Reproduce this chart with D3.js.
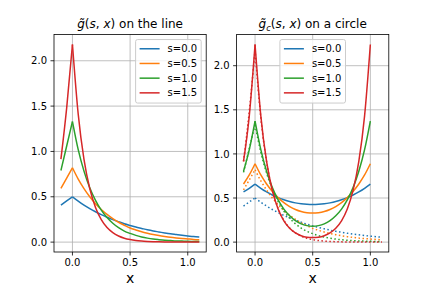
<!DOCTYPE html>
<html><head><meta charset="utf-8">
<script src="https://cdn.jsdelivr.net/npm/d3@7"></script>
<style>body{margin:0;background:#fff} svg{display:block}</style>
</head><body><svg id="c" width="432" height="288"></svg>
<script>
const seriesLabels = ["s=0.0", "s=0.5", "s=1.0", "s=1.5"];
const colors = ["#1f77b4", "#ff7f0e", "#2ca02c", "#d62728"];

// x positions for the curves on the line (left panel, dotted on right)
const xLine = [-0.1, -0.05, 0, 0.05, 0.1, 0.15, 0.2, 0.25, 0.3, 0.35, 0.4, 0.45, 0.5,
               0.55, 0.6, 0.65, 0.7, 0.75, 0.8, 0.85, 0.9, 0.95, 1.0, 1.05, 1.1];
const lineS00 = [0.409, 0.455, 0.5, 0.452, 0.409, 0.370, 0.335, 0.303, 0.274, 0.248, 0.225, 0.203, 0.184,
                 0.166, 0.151, 0.136, 0.123, 0.112, 0.101, 0.091, 0.083, 0.075, 0.068, 0.061, 0.056];
const lineS05 = [0.592, 0.705, 0.82, 0.695, 0.590, 0.500, 0.424, 0.360, 0.305, 0.259, 0.219, 0.186, 0.156,
                 0.134, 0.114, 0.098, 0.084, 0.072, 0.062, 0.053, 0.046, 0.040, 0.035, 0.030, 0.027];
const lineS10 = [0.790, 1.060, 1.33, 1.020, 0.783, 0.600, 0.461, 0.353, 0.271, 0.208, 0.159, 0.122, 0.096,
                 0.074, 0.057, 0.044, 0.034, 0.027, 0.021, 0.017, 0.013, 0.011, 0.009, 0.007, 0.006];
const lineS15 = [0.915, 1.480, 2.18, 1.411, 0.913, 0.591, 0.382, 0.247, 0.160, 0.104, 0.067, 0.043, 0.028,
                 0.018, 0.012, 0.008, 0.005, 0.003, 0.002, 0.001, 0.001, 0.001, 0.000, 0.000, 0.000];

// x positions for the curves on a circle (right panel, solid)
const xCircle = [-0.1, -0.05, 0, 0.05, 0.1, 0.15, 0.2, 0.25, 0.3, 0.35, 0.4, 0.45, 0.5,
                 0.55, 0.6, 0.65, 0.7, 0.75, 0.8, 0.85, 0.9, 0.95, 1.0];
const circS00 = [0.569, 0.610, 0.657, 0.610, 0.569, 0.534, 0.504, 0.480, 0.460, 0.445, 0.434, 0.428, 0.426,
                 0.428, 0.434, 0.445, 0.460, 0.480, 0.504, 0.534, 0.569, 0.610, 0.657];
const circS05 = [0.659, 0.761, 0.888, 0.761, 0.659, 0.574, 0.504, 0.447, 0.403, 0.370, 0.347, 0.334, 0.329,
                 0.334, 0.347, 0.370, 0.403, 0.447, 0.504, 0.574, 0.659, 0.761, 0.888];
const circS10 = [0.803, 1.048, 1.372, 1.048, 0.803, 0.618, 0.478, 0.374, 0.298, 0.243, 0.207, 0.187, 0.180,
                 0.187, 0.207, 0.243, 0.298, 0.374, 0.478, 0.618, 0.803, 1.048, 1.372];
const circS15 = [0.915, 1.432, 2.241, 1.432, 0.915, 0.586, 0.375, 0.241, 0.157, 0.104, 0.073, 0.056, 0.051,
                 0.056, 0.073, 0.104, 0.157, 0.241, 0.375, 0.586, 0.915, 1.432, 2.241];

const xTicks = [0.0, 0.5, 1.0];
const yTicks = [0.0, 0.5, 1.0, 1.5, 2.0];
const xTickLabels = ["0.0", "0.5", "1.0"];
const yTickLabels = ["0.0", "0.5", "1.0", "1.5", "2.0"];

const lineSeries = [lineS00, lineS05, lineS10, lineS15];
const circSeries = [circS00, circS05, circS10, circS15];

const svg = d3.select("#c");
const FONT = "DejaVu Sans, sans-serif";
const axTop = 34.56, axBottom = 252;
const panels = [
  {x0: 54, x1: 206.2},
  {x0: 236.6, x1: 388.8}
];

function pieces(xs, ys) {
  // split at the kink (x = 0) so that the cusp stays sharp
  const a = [], b = [];
  xs.forEach((x, i) => { if (x <= 0) a.push([x, ys[i]]); if (x >= 0) b.push([x, ys[i]]); });
  return [a, b];
}

function extentWithMargin(vals) {
  const mn = d3.min(vals), mx = d3.max(vals), r = mx - mn;
  return [mn - 0.05 * r, mx + 0.05 * r];
}

panels.forEach((p, pi) => {
  const g = svg.append("g");
  const xDom = extentWithMargin(xLine);
  const allY = pi === 0 ? lineSeries.flat() : circSeries.flat().concat(lineSeries.flat());
  const yDom = extentWithMargin(allY);
  const x = d3.scaleLinear().domain(xDom).range([p.x0, p.x1]);
  const y = d3.scaleLinear().domain(yDom).range([axBottom, axTop]);

  // grid
  g.append("g").selectAll("line").data(xTicks).join("line")
    .attr("x1", d => x(d)).attr("x2", d => x(d)).attr("y1", axTop).attr("y2", axBottom)
    .attr("stroke", "#b0b0b0").attr("stroke-width", 0.8);
  g.append("g").selectAll("line").data(yTicks).join("line")
    .attr("y1", d => y(d)).attr("y2", d => y(d)).attr("x1", p.x0).attr("x2", p.x1)
    .attr("stroke", "#b0b0b0").attr("stroke-width", 0.8);

  const clipId = "clip" + pi;
  svg.append("clipPath").attr("id", clipId).append("rect")
    .attr("x", p.x0).attr("y", axTop).attr("width", p.x1 - p.x0).attr("height", axBottom - axTop);
  const plot = g.append("g").attr("clip-path", `url(#${clipId})`);
  const lineGen = d3.line().x(d => x(d[0])).y(d => y(d[1])).curve(d3.curveMonotoneX);

  for (let k = 0; k < 4; k++) {
    if (pi === 0) {
      pieces(xLine, lineSeries[k]).forEach(pc => {
        plot.append("path").attr("d", lineGen(pc)).attr("fill", "none")
          .attr("stroke", colors[k]).attr("stroke-width", 1.5).attr("stroke-linejoin", "round");
      });
    } else {
      pieces(xCircle, circSeries[k]).forEach(pc => {
        plot.append("path").attr("d", lineGen(pc)).attr("fill", "none")
          .attr("stroke", colors[k]).attr("stroke-width", 1.5).attr("stroke-linejoin", "round");
      });
      pieces(xLine, lineSeries[k]).forEach(pc => {
        plot.append("path").attr("d", lineGen(pc)).attr("fill", "none")
          .attr("stroke", colors[k]).attr("stroke-width", 1.5)
          .attr("stroke-dasharray", "1.5,2.475");
      });
    }
  }

  // spines
  g.append("rect").attr("x", p.x0).attr("y", axTop).attr("width", p.x1 - p.x0).attr("height", axBottom - axTop)
    .attr("fill", "none").attr("stroke", "#000").attr("stroke-width", 0.8);

  // ticks
  const xt = g.append("g");
  xTicks.forEach((t, i) => {
    xt.append("line").attr("x1", x(t)).attr("x2", x(t)).attr("y1", axBottom).attr("y2", axBottom + 3.5)
      .attr("stroke", "#000").attr("stroke-width", 0.8);
    xt.append("text").attr("x", x(t)).attr("y", axBottom + 14).attr("text-anchor", "middle")
      .attr("font-family", FONT).attr("font-size", 10).attr("fill", "#000").text(xTickLabels[i]);
  });
  yTicks.forEach((t, i) => {
    xt.append("line").attr("x1", p.x0 - 3.5).attr("x2", p.x0).attr("y1", y(t)).attr("y2", y(t))
      .attr("stroke", "#000").attr("stroke-width", 0.8);
    xt.append("text").attr("x", p.x0 - 7).attr("y", y(t)).attr("dy", "0.36em").attr("text-anchor", "end")
      .attr("font-family", FONT).attr("font-size", 10).attr("fill", "#000").text(yTickLabels[i]);
  });

  // x label
  g.append("text").attr("x", (p.x0 + p.x1) / 2).attr("y", 283).attr("text-anchor", "middle")
    .attr("font-family", FONT).attr("font-size", 14).attr("fill", "#000").text("x");

  // title
  const tt = g.append("text").attr("x", (p.x0 + p.x1) / 2).attr("y", 28).attr("text-anchor", "middle")
    .attr("font-family", FONT).attr("font-size", 12).attr("fill", "#000");
  tt.append("tspan").attr("font-style", "italic").text("g\u0303");
  if (pi === 1) {
    tt.append("tspan").attr("font-style", "italic").attr("font-size", 8.4).attr("dy", 2.5).text("c");
    tt.append("tspan").attr("dy", -2.5).text("(");
  } else {
    tt.append("tspan").text("(");
  }
  tt.append("tspan").attr("font-style", "italic").text("s");
  tt.append("tspan").text(", ");
  tt.append("tspan").attr("font-style", "italic").text("x");
  tt.append("tspan").text(pi === 0 ? ") on the line" : ") on a circle");

  // legend
  const lw = 65.6, lh = 63.5;
  const lx = pi === 0 ? p.x1 - 5 - lw : (p.x0 + p.x1) / 2 - lw / 2;
  const ly = axTop + 5;
  const leg = g.append("g");
  leg.append("rect").attr("x", lx).attr("y", ly).attr("width", lw).attr("height", lh).attr("rx", 2)
    .attr("fill", "#fff").attr("fill-opacity", 0.8).attr("stroke", "#cccccc").attr("stroke-width", 1);
  seriesLabels.forEach((lab, k) => {
    const cy = ly + 9.2 + k * 14.7;
    leg.append("line").attr("x1", lx + 4).attr("x2", lx + 24).attr("y1", cy).attr("y2", cy)
      .attr("stroke", colors[k]).attr("stroke-width", 1.5);
    leg.append("text").attr("x", lx + 32).attr("y", cy).attr("dy", "0.36em")
      .attr("font-family", FONT).attr("font-size", 10).attr("fill", "#000").text(lab);
  });
});
</script>
</body></html>
